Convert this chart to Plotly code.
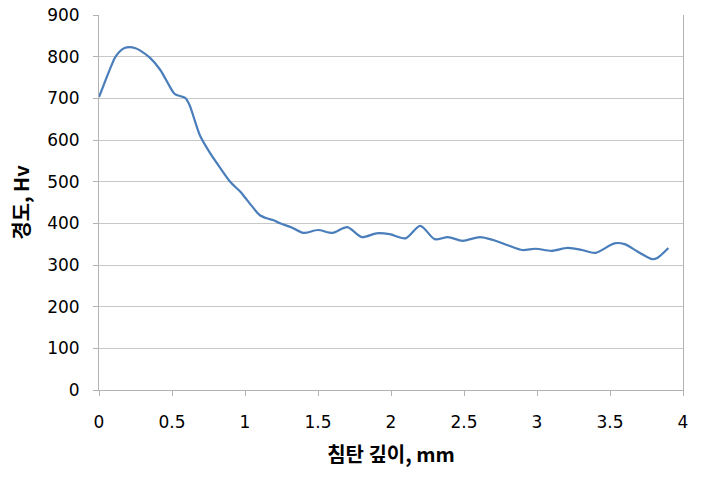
import plotly.graph_objects as go

depth_mm = [0.0, 0.03, 0.075, 0.11, 0.14, 0.175, 0.21, 0.25, 0.28, 0.35, 0.42, 0.49, 0.52, 0.59, 0.62,
            0.69, 0.76, 0.83, 0.90, 0.97, 1.0, 1.05, 1.1, 1.15, 1.2, 1.24, 1.32, 1.40, 1.50, 1.60, 1.70,
            1.80, 1.90, 1.99, 2.10, 2.20, 2.30, 2.39, 2.49, 2.61, 2.70, 2.81, 2.90, 2.99, 3.10,
            3.21, 3.31, 3.40, 3.53, 3.60, 3.69, 3.79, 3.82, 3.90]
hardness_hv = [703, 730, 770, 798, 812, 821, 823, 820, 815, 797, 768, 725, 710, 701, 684,
               612, 569, 533, 499, 475, 462, 440, 420, 412, 407, 400, 390, 377, 384, 377, 391,
               367, 376, 374, 364, 394, 362, 367, 358, 367, 360, 346, 336, 339, 334,
               341, 336, 329, 352, 350, 332, 314, 316, 341]

x_ticks = [0, 0.5, 1, 1.5, 2, 2.5, 3, 3.5, 4]
x_tick_text = ["0", "0.5", "1", "1.5", "2", "2.5", "3", "3.5", "4"]
y_ticks = [0, 100, 200, 300, 400, 500, 600, 700, 800, 900]

title_font = "Noto Sans CJK KR, Noto Sans, DejaVu Sans, sans-serif"
tick_font = "DejaVu Sans, Noto Sans, sans-serif"

fig = go.Figure()
fig.add_trace(go.Scatter(
    x=depth_mm, y=hardness_hv, mode="lines",
    line=dict(color="#4a7ebb", width=2.2, shape="spline", smoothing=0.8),
    showlegend=False,
))

fig.update_layout(
    width=714, height=477,
    margin=dict(l=99, r=31, t=15, b=87),
    paper_bgcolor="white", plot_bgcolor="white",
    font=dict(family=title_font, size=16, color="#000000"),
)
fig.update_xaxes(
    range=[0, 4], tickvals=x_ticks, ticktext=x_tick_text,
    showgrid=False, zeroline=False, automargin=False,
    showline=True, linecolor="#b3b3b3", linewidth=1,
    ticks="outside", ticklen=5, tickcolor="#b3b3b3",
    ticklabelstandoff=12,
    tickfont=dict(family=tick_font, size=17, color="#000000"),
    title=dict(text="<b>침탄 깊이, mm</b>", font=dict(family=title_font, size=20), standoff=16),
)
fig.update_yaxes(
    range=[0, 900], tickvals=y_ticks,
    showgrid=True, gridcolor="#c8c8c8", gridwidth=1,
    zeroline=False, automargin=False,
    showline=True, linecolor="#b3b3b3", linewidth=1, mirror=True,
    ticks="outside", ticklen=5, tickcolor="#b3b3b3",
    ticklabelstandoff=10,
    tickfont=dict(family=tick_font, size=17, color="#000000"),
    title=dict(text="<b>경도, Hv</b>", font=dict(family=title_font, size=20), standoff=12),
)

fig.write_html("out.html")
